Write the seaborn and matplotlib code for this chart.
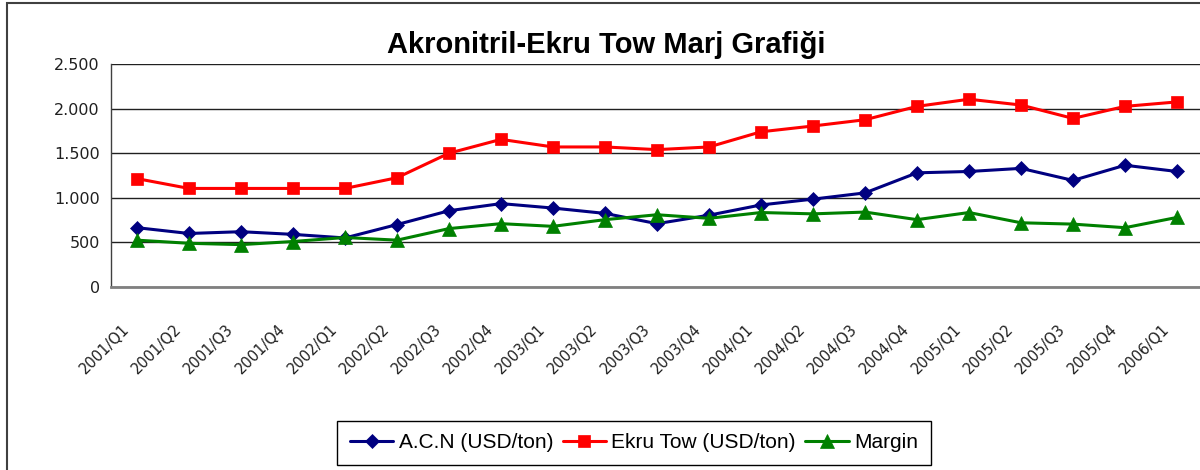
import numpy as np
import pandas as pd
import seaborn as sns
import matplotlib.pyplot as plt
from matplotlib.patches import Rectangle
from matplotlib.ticker import FuncFormatter
from matplotlib.transforms import ScaledTranslation

quarters = ['2001/Q1', '2001/Q2', '2001/Q3', '2001/Q4', '2002/Q1', '2002/Q2', '2002/Q3',
            '2002/Q4', '2003/Q1', '2003/Q2', '2003/Q3', '2003/Q4', '2004/Q1', '2004/Q2',
            '2004/Q3', '2004/Q4', '2005/Q1', '2005/Q2', '2005/Q3', '2005/Q4', '2006/Q1']
acn = [665, 600, 620, 590, 550, 700, 855, 935, 885, 825, 710, 805,
       920, 985, 1055, 1280, 1295, 1330, 1195, 1365, 1295]
ekru = [1215, 1105, 1105, 1105, 1105, 1225, 1500, 1655, 1570, 1570, 1540, 1570,
        1740, 1805, 1875, 2025, 2105, 2040, 1890, 2025, 2075]
margin = [525, 490, 475, 510, 555, 525, 655, 710, 680, 755, 810, 770,
          835, 820, 840, 755, 835, 720, 705, 665, 780]

series_names = ['A.C.N (USD/ton)', 'Ekru Tow (USD/ton)', 'Margin']
series_colors = ['#000080', '#FF0000', '#008000']
series_markers = ['D', 's', '^']
marker_sizes = [7, 9, 10]

df = pd.DataFrame({'idx': np.arange(len(quarters)), 'quarter': quarters,
                   series_names[0]: acn, series_names[1]: ekru, series_names[2]: margin})

sns.set_style('white')
plt.rcParams['font.family'] = ['DejaVu Sans']

fig = plt.figure(figsize=(12, 4.7), dpi=100)
ax = fig.add_axes([111 / 1200, 1 - 287 / 470, 1092 / 1200, 223 / 470])

for name, color, mk, ms in zip(series_names, series_colors, series_markers, marker_sizes):
    sns.lineplot(data=df, x='idx', y=name, ax=ax, color=color, marker=mk, markersize=ms,
                 markeredgecolor=color, markeredgewidth=0.5, linewidth=2.2, label=name)

ax.set_xlim(-0.5, len(quarters) - 0.5)
ax.set_ylim(0, 2500)
ax.set_yticks(np.arange(0, 2501, 500))
ax.yaxis.set_major_formatter(FuncFormatter(lambda v, p: f'{v:,.0f}'.replace(',', '.')))
ax.grid(axis='y', color='#202020', linewidth=1)
ax.set_axisbelow(True)
ax.set_xlabel('')
ax.set_ylabel('')

# ticks between categories, labels at the centers
ax.set_xticks(np.arange(-0.5, len(quarters), 1))
ax.set_xticklabels([])
ax.set_xticks(np.arange(len(quarters)), minor=True)
ax.set_xticklabels(quarters, minor=True, rotation=45, ha='right', va='top',
                   rotation_mode='anchor', fontsize=10.5, color='#202020')
ax.tick_params(axis='x', which='major', direction='out', length=5, width=1, color='#404040')
ax.tick_params(axis='x', which='minor', length=0, pad=25)
ax.tick_params(axis='y', direction='out', length=5, width=1, color='#404040',
               labelsize=11.5, labelcolor='#202020', pad=3)
for lbl in ax.get_xticklabels(minor=True):
    lbl.set_transform(lbl.get_transform() + ScaledTranslation(-0.15, 0, fig.dpi_scale_trans))

for s in ['top', 'right']:
    ax.spines[s].set_visible(False)
ax.spines['left'].set_color('#404040')
ax.spines['left'].set_linewidth(1)
ax.spines['bottom'].set_color('#808080')
ax.spines['bottom'].set_linewidth(2)

fig.text(606 / 1200, 1 - 45 / 470, 'Akronitril-Ekru Tow Marj Grafiği', ha='center', va='center',
         fontsize=21, fontweight='bold', color='black', family=['Liberation Sans', 'DejaVu Sans'])

handles, labels = ax.get_legend_handles_labels()
ax.get_legend().remove()
leg = fig.legend(handles, labels, loc='center', bbox_to_anchor=(634 / 1200, 1 - 443 / 470),
                 ncol=3, frameon=True, fancybox=False, framealpha=1, edgecolor='#000000',
                 handlelength=2.1, handletextpad=0.25, columnspacing=0.45, borderpad=0.6,
                 labelcolor='black',
                 prop={'family': ['Liberation Sans', 'DejaVu Sans'], 'size': 15})
leg.get_frame().set_linewidth(1)

# outer chart border (right and bottom run off the picture)
fig.patches.append(Rectangle((7 / 1200, -0.1), 1.2, 1 - 3 / 470 + 0.1, transform=fig.transFigure,
                             fill=False, edgecolor='#404040', linewidth=1.5))

fig.savefig('out.png', dpi=100)
